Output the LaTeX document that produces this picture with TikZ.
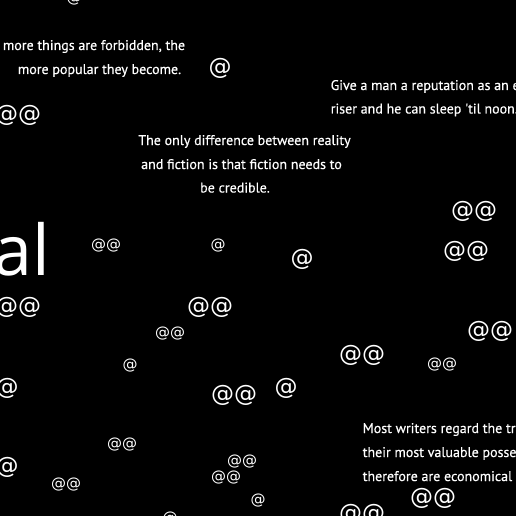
\documentclass[tikz,border=0pt]{standalone}
\usepackage{fontspec}
\newfontfamily\quotefont{PT Sans}[FakeStretch=1.0,FakeBold=0.4]
\newfontfamily\atfont{DejaVu Sans}
\newfontfamily\bigfont{Open Sans}
\tikzset{
  quotetext/.style={text=white, font=\quotefont\fontsize{14}{24}\selectfont, inner sep=0pt, anchor=base},
  quoteleft/.style={quotetext, anchor=base west},
  atbig/.style={text=white, font=\atfont\fontsize{23}{23}\selectfont, inner sep=0pt, anchor=center},
  atsmall/.style={text=white, font=\atfont\fontsize{15}{15}\selectfont, inner sep=0pt, anchor=center},
  bigword/.style={text=white, font=\bigfont\fontsize{70}{70}\selectfont, inner sep=0pt, anchor=base east}
}
\begin{document}
\begin{tikzpicture}[x=1pt,y=-1pt]
\fill[black] (0,0) rectangle (516,516);
\useasboundingbox (0,0) rectangle (516,516);
\clip (0,0) rectangle (516,516);

% quotes
\node[quotetext] (q1a) at (94,50) {more things are forbidden, the};
\node[quotetext] (q1b) at (99.5,74) {more popular they become.};

\node[quoteleft] (q2a) at (330.5,90) {Give a man a reputation as an early};
\node[quoteleft] (q2b) at (330.5,113.5) {riser and he can sleep 'til noon.};

\node[quotetext] (q3a) at (244.5,145) {The only difference between reality};
\node[quotetext] (q3b) at (241.5,169) {and fiction is that fiction needs to};
\node[quotetext] (q3c) at (235,192.5) {be credible.};

\node[quoteleft] (q4a) at (362.5,433) {Most writers regard the truth as};
\node[quoteleft] (q4b) at (362.5,457) {their most valuable possession, and};
\node[quoteleft] (q4c) at (362.5,481) {therefore are economical in its use.};

% big word
\node[bigword] (w) at (50,275) {al};

% at signs
\node[atsmall] (a1) at (74,-1) {@};
\node[atbig] (a2) at (220,68) {@};
\node[atbig] (a3) at (18,115) {@@};
\node[atsmall] (a4) at (106,246) {@@};
\node[atsmall] (a5) at (218,246) {@};
\node[atbig] (a6) at (474,211) {@@};
\node[atbig] (a7) at (466,251) {@@};
\node[atbig] (a8) at (302,259) {@};
\node[atbig] (a9) at (18,307) {@@};
\node[atbig] (a10) at (210,307) {@@};
\node[atsmall] (a11) at (170,334) {@@};
\node[atbig] (a12) at (490,331) {@@};
\node[atbig] (a13) at (362,355) {@@};
\node[atsmall] (a14) at (442,365) {@@};
\node[atsmall] (a15) at (130,366) {@};
\node[atbig] (a16) at (7,388) {@};
\node[atbig] (a17) at (234,395) {@@};
\node[atbig] (a18) at (286,388) {@};
\node[atsmall] (a19) at (122,445) {@@};
\node[atbig] (a20) at (7,467) {@};
\node[atsmall] (a21) at (242,462) {@@};
\node[atsmall] (a22) at (226,478) {@@};
\node[atsmall] (a23) at (66,485) {@@};
\node[atsmall] (a24) at (258,501) {@};
\node[atbig] (a25) at (433,498) {@@};
\node[atbig] (a26) at (362,514) {@@};
\node[atsmall] (a27) at (170,519) {@};
\end{tikzpicture}
\end{document}
